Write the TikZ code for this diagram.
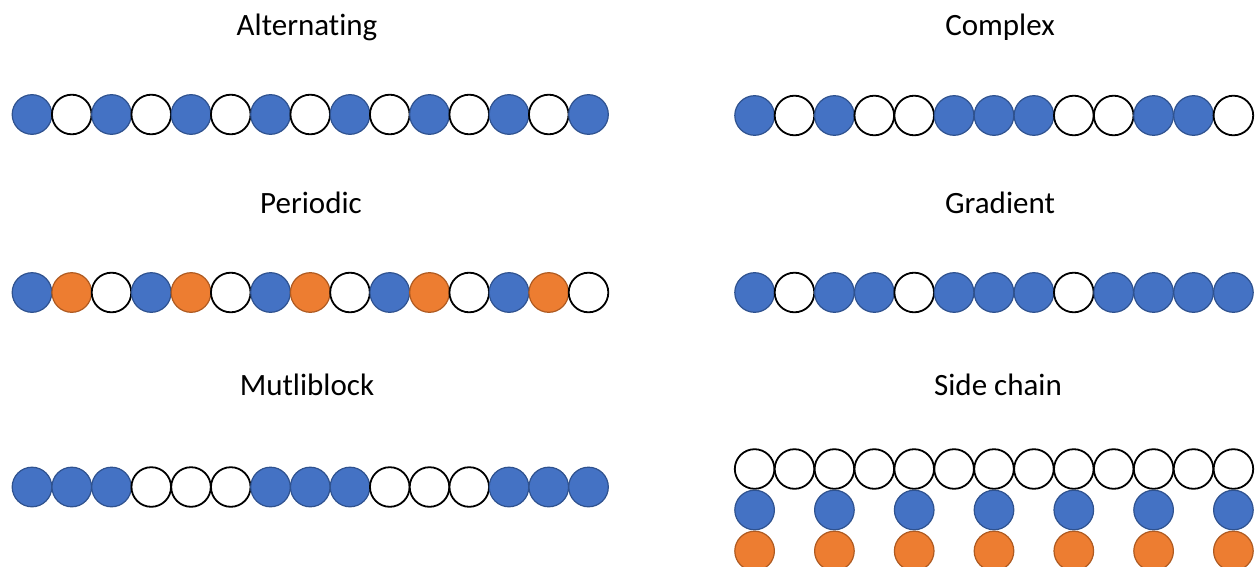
\documentclass[tikz,border=0pt]{standalone}
\usepackage{fontspec}
\setmainfont{Carlito}[Ligatures={NoCommon}]
\definecolor{obl}{HTML}{4472C4}
\definecolor{oblb}{HTML}{2F528F}
\definecolor{oor}{HTML}{ED7D31}
\definecolor{oorb}{HTML}{AE5A21}
\begin{document}
\begin{tikzpicture}[x=1pt,y=-1pt,
  bead/.style={circle,minimum size=39.6pt,inner sep=0pt,outer sep=0pt},
  B/.style={bead,fill=obl,draw=oblb,line width=1.2pt},
  O/.style={bead,fill=oor,draw=oorb,line width=1.2pt},
  W/.style={bead,fill=white,draw=black,line width=1.8pt},
  title/.style={font=\fontsize{31}{36}\selectfont,anchor=base}]
\useasboundingbox (0,0) rectangle (1260,567);

% titles
\node[title] (tAlt) at (307,36) {Alternat\kern0pt ing};
\node[title] (tCom) at (1000,36) {Complex};
\node[title] (tPer) at (311,213) {Periodic};
\node[title] (tGra) at (1000,213) {Gradient};
\node[title] (tMul) at (307,395) {Mutliblock};
\node[title] (tSid) at (998,395) {Side chain};

% Alternating
\foreach \t [count=\i from 0] in {B,W,B,W,B,W,B,W,B,W,B,W,B,W,B}
  \node[\t] (alt\i) at ({32+39.75*\i},114.5) {};
% Periodic
\foreach \t [count=\i from 0] in {B,O,W,B,O,W,B,O,W,B,O,W,B,O,W}
  \node[\t] (per\i) at ({32+39.75*\i},292.5) {};
% Multiblock
\foreach \t [count=\i from 0] in {B,B,B,W,W,W,B,B,B,W,W,W,B,B,B}
  \node[\t] (mul\i) at ({32+39.75*\i},487) {};
% Complex
\foreach \t [count=\i from 0] in {B,W,B,W,W,B,B,B,W,W,B,B,W}
  \node[\t] (com\i) at ({754.6+39.9*\i},115.5) {};
% Gradient
\foreach \t [count=\i from 0] in {B,W,B,B,W,B,B,B,W,B,B,B,B}
  \node[\t] (gra\i) at ({754.6+39.9*\i},292.5) {};
% Side chain
\foreach \i in {0,...,12}
  \node[W] (sid\i) at ({754.6+39.9*\i},469) {};
\foreach \i in {0,2,...,12}
  \node[B] (sb\i) at ({754.6+39.9*\i},510) {};
\foreach \i in {0,2,...,12}
  \node[O] (so\i) at ({754.6+39.9*\i},551) {};
\end{tikzpicture}
\end{document}
